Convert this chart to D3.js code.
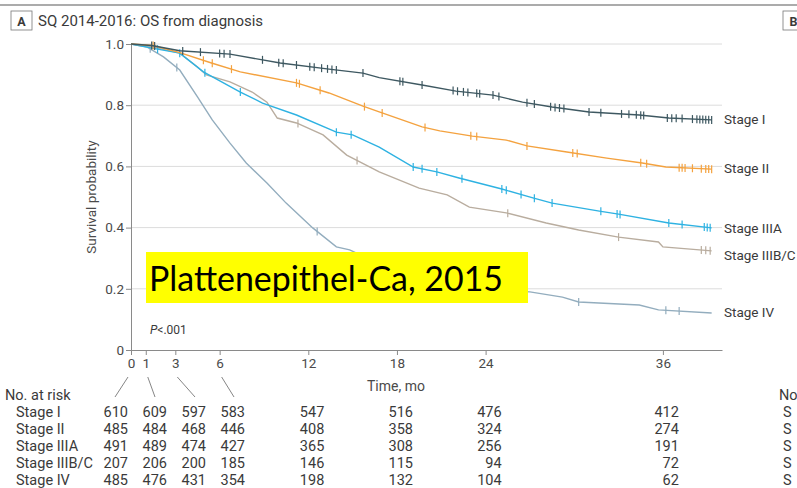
<!DOCTYPE html>
<html lang="en">
<head>
<meta charset="UTF-8">
<title>SQ 2014-2016: OS from diagnosis</title>
<script src="https://cdn.jsdelivr.net/npm/d3@7"></script>
<style>
    body {margin: 0; background: white;}
    text {font-family: Roboto, sans-serif; fill: #3a3a3a;}
    .axis text {font-size: 13.5px; fill: #4a4a4a;}
    .axis path, .axis line {stroke: #8a8a8a;}
</style>
</head>
<body>
<script>
    const width = 797;
    const height = 488;

    // survival curves (months, probability)
    const stages = ["Stage I", "Stage II", "Stage IIIA", "Stage IIIB/C", "Stage IV"];
    const colors = ["#3e5861", "#f4a23f", "#2eb2e2", "#b9ad9f", "#93adbe"];

    const stageI_t = [0, 1.4, 3.3, 6.7, 10.1, 13.4, 15.7, 16.8, 19.7, 22, 24.5, 26.5, 28.5, 31, 34.4, 36.4, 39.3];
    const stageI_s = [1, 0.995, 0.978, 0.967, 0.938, 0.918, 0.905, 0.89, 0.866, 0.846, 0.833, 0.81, 0.794, 0.778, 0.768, 0.758, 0.752];
    const stageII_t = [0, 1.5, 3.3, 5.5, 7.4, 11.2, 13.4, 15.7, 16.8, 19.7, 20.9, 23.1, 25.4, 26.8, 29.5, 32.2, 34.6, 36.2, 39.3];
    const stageII_s = [1, 0.995, 0.972, 0.937, 0.909, 0.873, 0.84, 0.797, 0.778, 0.729, 0.716, 0.699, 0.686, 0.667, 0.647, 0.627, 0.611, 0.598, 0.591];
    const stageIIIA_t = [0, 1.7, 3.3, 4.9, 7.4, 8.9, 11.2, 13.9, 15, 16.8, 19.1, 20.7, 22.2, 25.1, 27.2, 28.5, 31.7, 33, 36.4, 39.3];
    const stageIIIA_s = [1, 0.984, 0.97, 0.909, 0.843, 0.807, 0.768, 0.712, 0.703, 0.663, 0.598, 0.582, 0.562, 0.526, 0.497, 0.48, 0.454, 0.444, 0.415, 0.399];
    const stageIIIBC_t = [0, 1.5, 3.3, 4.5, 5.1, 6.7, 8.2, 9.2, 9.9, 11.2, 13, 14.6, 16.8, 19.5, 21.4, 22.9, 25.4, 28.1, 30.3, 33, 35.7, 36, 39.3];
    const stageIIIBC_s = [1, 0.99, 0.97, 0.925, 0.899, 0.876, 0.843, 0.81, 0.758, 0.742, 0.703, 0.637, 0.582, 0.529, 0.507, 0.467, 0.448, 0.415, 0.392, 0.369, 0.353, 0.337, 0.324];
    const stageIV_t = [0, 1.1, 2.2, 3.3, 4.5, 5.5, 6.7, 7.8, 9.2, 10.5, 12.3, 13.9, 14.8, 16, 18, 20, 22, 24, 26, 27, 29.2, 30.3, 34.4, 35.7, 39.3];
    const stageIV_s = [1, 0.99, 0.958, 0.915, 0.827, 0.752, 0.676, 0.611, 0.546, 0.48, 0.399, 0.337, 0.327, 0.3, 0.265, 0.24, 0.22, 0.205, 0.192, 0.19, 0.173, 0.157, 0.147, 0.131, 0.121];

    // censoring marks (months)
    const censorI = [1.4, 1.6, 3.5, 4.7, 6, 6.3, 6.7, 8.9, 10, 10.3, 11.2, 12.1, 12.4, 12.9, 13.3, 13.6, 13.9, 15.7, 18.2, 18.4, 19.7, 21.8, 22.1, 22.5, 22.8, 23.4, 23.6, 24.5, 24.9, 26.8, 27.3, 28.4, 28.7, 29, 29.3, 31, 31.8, 33.2, 33.7, 34.2, 34.5, 34.7, 36.3, 36.6, 36.9, 37.3, 38, 38.3, 38.5, 38.7, 38.9, 39.1, 39.3];
    const censorII = [1.5, 4.9, 5.5, 6.8, 11.2, 11.4, 12.8, 15.8, 17, 19.9, 23, 23.4, 26.8, 29.9, 30.2, 34.5, 34.9, 37.1, 37.3, 37.5, 38, 38.6, 38.9, 39.1, 39.3];
    const censorIIIA = [1.8, 3.3, 5, 7.4, 13.9, 14.9, 19.1, 19.7, 20.7, 22.4, 25.1, 25.4, 26.4, 27.3, 28.5, 31.8, 32.9, 33.1, 36.4, 37.3, 38.8, 39, 39.2];
    const censorIIIBC = [11.3, 15.3, 25.5, 33, 38.6, 38.9, 39.2];
    const censorIV = [1.3, 3.1, 12.6, 30.3, 36.2, 37.1];

    // numbers at risk
    const riskTimes = [0, 1, 3, 6, 12, 18, 24, 36];
    const riskI = [610, 609, 597, 583, 547, 516, 476, 412];
    const riskII = [485, 484, 468, 446, 408, 358, 324, 274];
    const riskIIIA = [491, 489, 474, 427, 365, 308, 256, 191];
    const riskIIIBC = [207, 206, 200, 185, 146, 115, 94, 72];
    const riskIV = [485, 476, 431, 354, 198, 132, 104, 62];

    const yTicks = [0, 0.2, 0.4, 0.6, 0.8, 1.0];

    const series = [
        {t: stageI_t, s: stageI_s, c: censorI, risk: riskI},
        {t: stageII_t, s: stageII_s, c: censorII, risk: riskII},
        {t: stageIIIA_t, s: stageIIIA_s, c: censorIIIA, risk: riskIIIA},
        {t: stageIIIBC_t, s: stageIIIBC_s, c: censorIIIBC, risk: riskIIIBC},
        {t: stageIV_t, s: stageIV_s, c: censorIV, risk: riskIV}
    ].map((d, i) => ({...d, name: stages[i], color: colors[i],
                      pts: d.t.map((t, j) => [t, d.s[j]])}));

    const svg = d3.select("body").append("svg")
        .attr("width", width).attr("height", height);

    const x = d3.scaleLinear().domain([0, 40]).range([131, 722]);
    const y = d3.scaleLinear().domain([0, 1]).range([350, 44]);

    // header
    svg.append("line").attr("x1", 0).attr("x2", width).attr("y1", 5).attr("y2", 5)
        .style("stroke", "#8f8f8f").style("stroke-width", 1.5);
    [[11, "A"], [783, "B"]].forEach(([bx, label]) => {
        svg.append("rect").attr("x", bx).attr("y", 11).attr("width", 21).attr("height", 19)
            .style("fill", "white").style("stroke", "#777").style("stroke-width", 0.8);
        svg.append("text").attr("x", bx + 10.5).attr("y", 25.5)
            .style("text-anchor", "middle").style("font-weight", "bold").style("font-size", "12.5px")
            .text(label);
    });
    svg.append("text").attr("x", 38).attr("y", 26).style("font-size", "15px")
        .text("SQ 2014-2016: OS from diagnosis");

    // grid
    svg.append("g").selectAll("line")
        .data(yTicks.filter(d => d > 0))
        .join("line")
        .attr("x1", x(0)).attr("x2", x(40))
        .attr("y1", d => y(d)).attr("y2", d => y(d))
        .style("stroke", "#dcdcdc").style("stroke-width", 1);

    // axes
    svg.append("g").attr("class", "axis")
        .attr("transform", `translate(${x(0)},0)`)
        .call(d3.axisLeft(y).tickValues(yTicks).tickSize(5).tickSizeOuter(0)
            .tickFormat(d => d === 0 ? "0" : d3.format(".1f")(d)))
        .call(g => g.selectAll("text").attr("x", -7));

    svg.append("g").attr("class", "axis")
        .attr("transform", `translate(0,${y(0)})`)
        .call(d3.axisBottom(x).tickValues(riskTimes).tickSize(5).tickSizeOuter(0))
        .call(g => g.selectAll("text").attr("y", 8));

    svg.append("text").attr("transform", "translate(96,197) rotate(-90)")
        .style("text-anchor", "middle").style("font-size", "13.5px").style("fill", "#4a4a4a")
        .text("Survival probability");
    svg.append("text").attr("x", 396).attr("y", 391)
        .style("text-anchor", "middle").style("font-size", "14px").style("fill", "#4a4a4a")
        .text("Time, mo");

    // curves
    const line = d3.line().x(d => x(d[0])).y(d => y(d[1]));
    const interp = (d, t) => {
        const i = d3.bisector(p => p[0]).right(d.pts, t) - 1;
        const a = d.pts[Math.max(0, i)], b = d.pts[Math.min(d.pts.length - 1, i + 1)];
        return b[0] === a[0] ? a[1] : a[1] + (b[1] - a[1]) * (t - a[0]) / (b[0] - a[0]);
    };

    const curves = svg.append("g");
    series.slice().reverse().forEach(d => {
        curves.append("path").datum(d.pts).attr("d", line)
            .style("fill", "none").style("stroke", d.color).style("stroke-width", 1.4);
        curves.append("g").selectAll("line")
            .data(d.c).join("line")
            .attr("x1", t => x(t)).attr("x2", t => x(t))
            .attr("y1", t => y(interp(d, t)) - 4).attr("y2", t => y(interp(d, t)) + 4)
            .style("stroke", d.color).style("stroke-width", 1.2);
    });

    // curve labels
    const labelY = [124, 173, 233, 260, 317];
    svg.append("g").selectAll("text")
        .data(series).join("text")
        .attr("x", 724).attr("y", (d, i) => labelY[i])
        .style("font-size", "13.5px")
        .text(d => d.name);

    svg.append("text").attr("x", 150).attr("y", 334).style("font-size", "12px")
        .html('<tspan font-style="italic">P</tspan>&lt;.001');

    // overlay box
    svg.append("rect").attr("x", 146).attr("y", 252).attr("width", 382).attr("height", 51)
        .style("fill", "#ffff00");
    svg.append("text").attr("x", 149).attr("y", 291)
        .attr("textLength", 354).attr("lengthAdjust", "spacingAndGlyphs")
        .style("font-family", "Lato, 'Open Sans', sans-serif").style("font-size", "35px").style("fill", "#000")
        .text("Plattenepithel-Ca, 2015");

    // number at risk table
    const colRight = [128, 167, 206, 245];
    const colX = t => t < 12 ? colRight[riskTimes.indexOf(t)] : x(t) + 16;
    const colMid = [115, 155, 195, 234];

    svg.append("g").selectAll("line")
        .data(riskTimes.filter(t => t < 12)).join("line")
        .attr("x1", t => x(t) - 3 + (t > 0 ? 5 : 0)).attr("y1", 377)
        .attr("x2", (t, i) => colMid[i]).attr("y2", 397)
        .style("stroke", "#777").style("stroke-width", 0.9);

    svg.append("text").attr("x", 5).attr("y", 400).style("font-size", "14.5px").text("No. at risk");

    const rowY = [417, 434, 451, 468, 485];
    series.forEach((d, i) => {
        svg.append("text").attr("x", 16).attr("y", rowY[i]).style("font-size", "14.5px").text(d.name);
        svg.append("g").selectAll("text")
            .data(d.risk).join("text")
            .attr("x", (v, j) => colX(riskTimes[j])).attr("y", rowY[i])
            .style("text-anchor", "end").style("font-size", "14.5px")
            .text(v => v);
        svg.append("text").attr("x", 783).attr("y", rowY[i]).style("font-size", "14.5px").text("S");
    });
    svg.append("text").attr("x", 779).attr("y", 400).style("font-size", "14.5px").text("No");
</script>
</body>
</html>
